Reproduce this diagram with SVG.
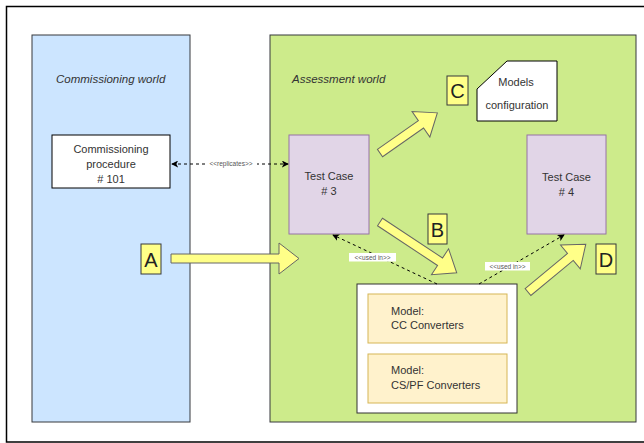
<svg xmlns="http://www.w3.org/2000/svg" width="644" height="443" viewBox="0 0 644 443">
<style>
text{font-family:"Liberation Sans",Arial,sans-serif;fill:#333}
.t{font-size:11px;text-anchor:middle}
.it{font-size:11.5px;font-style:italic;fill:#333}
.lbl{fill:#ffff88;stroke:#36393d;stroke-width:1}
.lt{font-size:20px;text-anchor:middle;fill:#222}
.blk{fill:#ffff88;stroke:#666;stroke-width:1;stroke-linejoin:miter}
.dash{fill:none;stroke:#000;stroke-width:1;stroke-dasharray:3 3}
.tag{font-size:6.5px;text-anchor:middle;fill:#555}
.tc{fill:#e1d5e7;stroke:#9673a6}
.mdl{fill:#fff2cc;stroke:#d6b656}
</style>
<defs>
<marker id="ah" viewBox="0 0 8 8" refX="7" refY="4" markerWidth="7" markerHeight="7" orient="auto-start-reverse" markerUnits="userSpaceOnUse">
<path d="M0,0 L8,4 L0,8 L2,4 Z" fill="#000"/>
</marker>
</defs>
<rect x="6.5" y="6.5" width="660" height="435.5" fill="#fff" stroke="#000" stroke-width="1.5"/>
<g id="commissioning-world">
<rect x="32" y="35" width="158" height="387" fill="#cce5ff" stroke="#36393d"/>
<text class="it" x="56" y="83">Commissioning world</text>
</g>
<g id="assessment-world">
<rect x="270" y="35" width="366" height="387" fill="#cdeb8b" stroke="#36393d"/>
<text class="it" x="292" y="83">Assessment world</text>
</g>
<g id="commissioning-procedure">
<rect x="52" y="135" width="118" height="53" fill="#fff" stroke="#000"/>
<text class="t" x="111" y="153">Commissioning</text>
<text class="t" x="111" y="168">procedure</text>
<text class="t" x="111" y="183"># 101</text>
</g>
<g id="test-case-3">
<rect class="tc" x="289" y="135" width="80" height="99"/>
<text class="t" x="329" y="180">Test Case</text>
<text class="t" x="329" y="195"># 3</text>
</g>
<g id="test-case-4">
<rect class="tc" x="527" y="135" width="79" height="99"/>
<text class="t" x="566.5" y="181">Test Case</text>
<text class="t" x="566.5" y="196"># 4</text>
</g>
<g id="models-configuration">
<path d="M507,61 H557 V121 H477 V89 Z" fill="#fff" stroke="#000"/>
<text class="t" x="516" y="86">Models</text>
<text class="t" x="517" y="109">configuration</text>
</g>
<g id="models">
<rect x="357" y="284" width="160" height="129" fill="#fff" stroke="#333"/>
<g id="model-cc">
<rect class="mdl" x="368" y="294" width="139" height="49"/>
<text x="391" y="315" style="font-size:11px">Model:</text>
<text x="391" y="329" style="font-size:11px">CC Converters</text>
</g>
<g id="model-cspf">
<rect class="mdl" x="368" y="354" width="139" height="49"/>
<text x="391" y="374" style="font-size:11px">Model:</text>
<text x="391" y="389" style="font-size:11px">CS/PF Converters</text>
</g>
</g>
<g id="connectors">
<line class="dash" x1="172" y1="164" x2="288" y2="164" marker-start="url(#ah)" marker-end="url(#ah)"/>
<rect x="205" y="160" width="52" height="8" fill="#fff"/>
<text class="tag" x="231" y="166.3">&lt;&lt;replicates&gt;&gt;</text>
<line class="dash" x1="437" y1="284" x2="333" y2="235" marker-end="url(#ah)"/>
<rect x="349" y="253" width="47" height="8.5" fill="#fff"/>
<text class="tag" x="372.5" y="259.6">&lt;&lt;used in&gt;&gt;</text>
<line class="dash" x1="479" y1="284" x2="564" y2="235" marker-end="url(#ah)"/>
<rect x="485" y="262" width="45" height="8.5" fill="#fff"/>
<text class="tag" x="507.5" y="268.6">&lt;&lt;used in&gt;&gt;</text>
</g>
<g id="arrow-a">
<path class="blk" transform="translate(171,258.5)" d="M0,-4.5 H108 V-15.5 L128,0 L108,15.5 V4.5 H0 Z"/>
<rect class="lbl" x="141" y="244" width="20" height="30"/>
<text class="lt" x="151" y="266.5">A</text>
</g>
<g id="arrow-b">
<path class="blk" transform="translate(380,222) rotate(33.5)" d="M0,-4.5 H72 V-15.5 L92,0 L72,15.5 V4.5 H0 Z"/>
<rect class="lbl" x="428" y="214" width="19" height="30"/>
<text class="lt" x="437.5" y="236.5">B</text>
</g>
<g id="arrow-c">
<path class="blk" transform="translate(380,153) rotate(-35)" d="M0,-4.5 H50 V-15.5 L70,0 L50,15.5 V4.5 H0 Z"/>
<rect class="lbl" x="447" y="76" width="21" height="29"/>
<text class="lt" x="457.5" y="97.5">C</text>
</g>
<g id="arrow-d">
<path class="blk" transform="translate(528,292) rotate(-39.6)" d="M0,-4.5 H55 V-15.5 L75,0 L55,15.5 V4.5 H0 Z"/>
<rect class="lbl" x="596" y="244" width="20" height="30"/>
<text class="lt" x="606" y="266.5">D</text>
</g>
</svg>
